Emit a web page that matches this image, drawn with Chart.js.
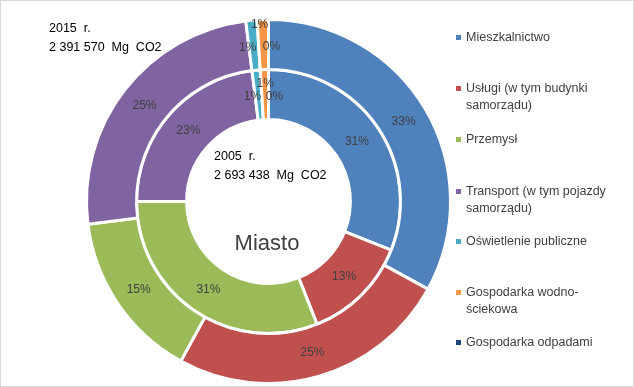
<!DOCTYPE html>
<html>
<head>
<meta charset="utf-8">
<script src="https://cdn.jsdelivr.net/npm/chart.js@4.4.0/dist/chart.umd.min.js"></script>
<style>
  html, body { margin: 0; padding: 0; background: #fff; }
  #wrap {
    position: relative; width: 632px; height: 385px;
    border: 1px solid #d9d9d9; background: #fff;
    font-family: 'Liberation Sans', Arial, sans-serif; color: #404040;
  }
  #wrap canvas { position: absolute; left: 0; top: 0; }
  .note { position: absolute; font-size: 12.5px; line-height: 19px; color: #000; white-space: nowrap; }
  #center { position: absolute; left: 166px; width: 200px; top: 229px; text-align: center; font-size: 22px; color: #404040; }
  #legend { position: absolute; left: 455px; top: 0; width: 180px; }
  .item { position: absolute; left: 0; font-size: 12.5px; line-height: 17px; color: #404040; }
  .item i { position: absolute; left: 0; top: 6px; width: 5px; height: 5px; }
  .item span { display: block; margin-left: 10px; }
</style>
</head>
<body>
<div id="wrap">
  <canvas id="c" width="632" height="385"></canvas>
  <div class="note" style="left:48px;top:18px">2015&nbsp; r.<br>2 391 570&nbsp; Mg&nbsp; CO2</div>
  <div class="note" style="left:213px;top:146px">2005&nbsp; r.<br>2 693 438&nbsp; Mg&nbsp; CO2</div>
  <div id="center">Miasto</div>
  <div id="legend"></div>
</div>
<script>
// kategorie
const categories = [
    ['Mieszkalnictwo'],
    ['Usługi (w tym budynki', 'samorządu)'],
    ['Przemysł'],
    ['Transport (w tym pojazdy', 'samorządu)'],
    ['Oświetlenie publiczne'],
    ['Gospodarka wodno-', 'ściekowa'],
    ['Gospodarka odpadami'],
];
// udział % — zewnętrzny pierścień 2015, wewnętrzny 2005
const values2015 = [33, 25, 15, 25, 1, 1, 0];
const values2005 = [31, 13, 31, 23, 1, 1, 0];

const colors = ['#4f81bd', '#c0504d', '#9bbb59', '#8064a2', '#4bacc6', '#f79646', '#1f497d'];

// legenda (HTML, żeby zawijać tekst jak w Excelu)
const legendTops = [28, 79, 130, 182, 232, 283, 333];
const legend = document.getElementById('legend');
categories.forEach((lines, i) => {
    const d = document.createElement('div');
    d.className = 'item';
    d.style.top = legendTops[i] + 'px';
    d.innerHTML = `<i style="background:${colors[i]}"></i><span>${lines.join('<br>')}</span>`;
    legend.appendChild(d);
});

// przesunięcia etykiet dla małych wycinków (jak rozkłada je Excel)
const labelShift = [
    { 4: [-6, 2], 5: [-4, -20], 6: [3, 2] },
    { 4: [-6, 2], 5: [0, -11], 6: [6, 2] },
];

const pctLabels = {
    id: 'pctLabels',
    afterDatasetsDraw(chart) {
        const ctx = chart.ctx;
        ctx.save();
        ctx.font = '12px "Liberation Sans", Arial, sans-serif';
        ctx.fillStyle = '#404040';
        ctx.textAlign = 'center';
        ctx.textBaseline = 'middle';
        chart.data.datasets.forEach((ds, di) => {
            const total = ds.data.reduce((a, b) => a + b, 0);
            chart.getDatasetMeta(di).data.forEach((arc, i) => {
                const p = arc.tooltipPosition();
                const s = labelShift[di][i] || [0, 0];
                const txt = Math.round(ds.data[i] / total * 100) + '%';
                ctx.fillText(txt, p.x + s[0], p.y + s[1]);
            });
        });
        ctx.restore();
    },
};

new Chart(document.getElementById('c'), {
    type: 'doughnut',
    data: {
        labels: categories.map(l => l.join(' ')),
        datasets: [
            { label: '2015', data: values2015, backgroundColor: colors, borderColor: '#fff', borderWidth: 3 },
            { label: '2005', data: values2005, backgroundColor: colors, borderColor: '#fff', borderWidth: 3 },
        ],
    },
    options: {
        responsive: false,
        animation: false,
        cutout: '45%',
        layout: { padding: { left: 84, right: 181, top: 16, bottom: 0 } },
        plugins: {
            legend: { display: false },
            tooltip: { enabled: false },
        },
    },
    plugins: [pctLabels],
});
</script>
</body>
</html>
